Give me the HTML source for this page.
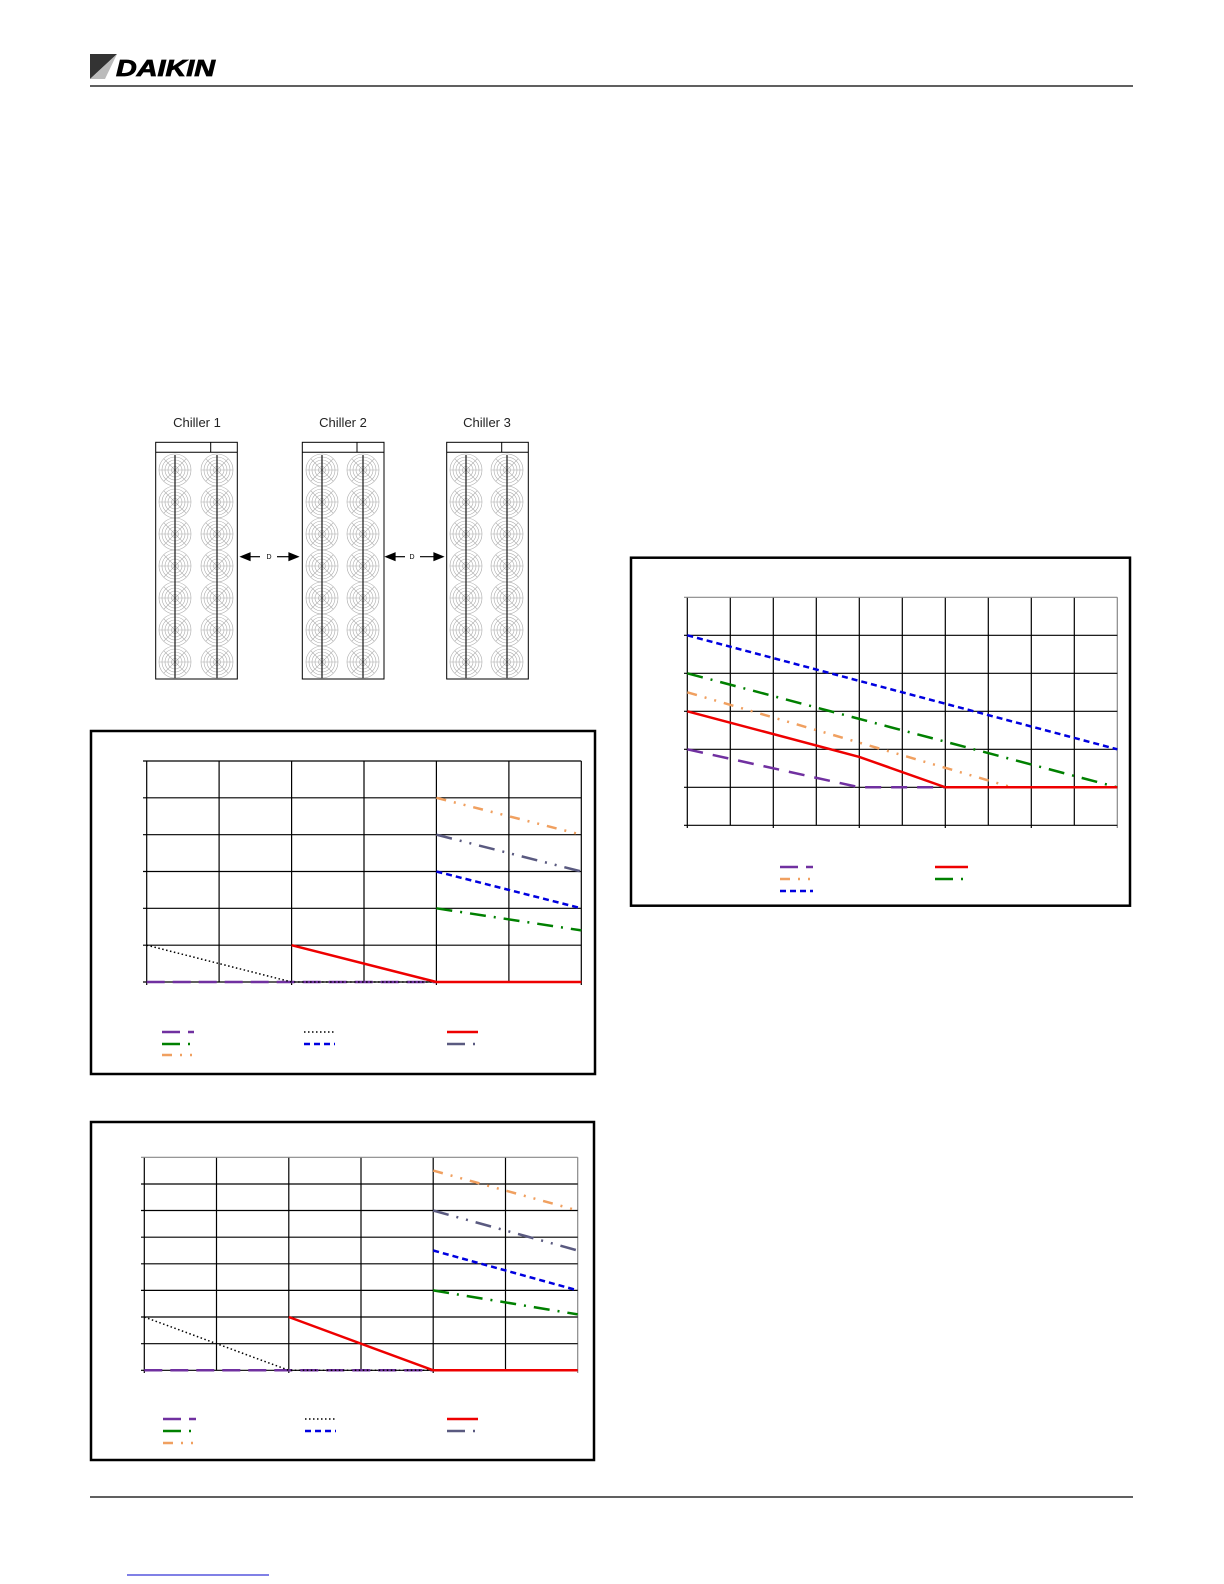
<!DOCTYPE html>
<html><head><meta charset="utf-8"><style>
html,body{margin:0;padding:0;background:#fff}
svg{display:block}
</style></head><body>
<svg width="1224" height="1584" viewBox="0 0 1224 1584" xmlns="http://www.w3.org/2000/svg" font-family="Liberation Sans, sans-serif">
<defs>
<g id="fan">
 <g fill="none" stroke="#aaa" stroke-width="0.6">
  <circle r="16"/><circle r="13"/><circle r="10"/><circle r="7"/><circle r="3.5"/>
  <line x1="-16" y1="0" x2="16" y2="0"/>
  <line x1="-11.3" y1="-11.3" x2="11.3" y2="11.3"/>
  <line x1="-11.3" y1="11.3" x2="11.3" y2="-11.3"/>
 </g>
</g>
</defs>
<!-- header -->
<polygon points="90,54 117,54 90,79" fill="#333"/>
<polygon points="90,79 117,54 105,79" fill="#bbb"/>
<text x="116" y="76" font-size="23" font-weight="bold" font-style="italic" textLength="99" lengthAdjust="spacingAndGlyphs" stroke="#000" stroke-width="0.8">DAIKIN</text>
<line x1="90" y1="86" x2="1133" y2="86" stroke="#000" stroke-width="1.2"/>

<!-- chillers -->
<g font-size="13" text-anchor="middle" fill="#222">
<text x="197" y="427">Chiller 1</text>
<text x="343" y="427">Chiller 2</text>
<text x="487" y="427">Chiller 3</text>
</g>
<g stroke="#000" stroke-width="1" fill="none">
<rect x="155.7" y="442.3" width="81.6" height="236.7"/><line x1="155.7" y1="452.3" x2="237.3" y2="452.3"/><line x1="210.7" y1="442.3" x2="210.7" y2="452.3"/>
<rect x="302.3" y="442.3" width="81.7" height="236.7"/><line x1="302.3" y1="452.3" x2="384" y2="452.3"/><line x1="357" y1="442.3" x2="357" y2="452.3"/>
<rect x="446.7" y="442.3" width="81.6" height="236.7"/><line x1="446.7" y1="452.3" x2="528.3" y2="452.3"/><line x1="501.7" y1="442.3" x2="501.7" y2="452.3"/>
</g>
<g>
<use href="#fan" x="175" y="470"/><use href="#fan" x="175" y="502"/><use href="#fan" x="175" y="534"/><use href="#fan" x="175" y="566"/><use href="#fan" x="175" y="598"/><use href="#fan" x="175" y="630"/><use href="#fan" x="175" y="662"/>
<use href="#fan" x="217" y="470"/><use href="#fan" x="217" y="502"/><use href="#fan" x="217" y="534"/><use href="#fan" x="217" y="566"/><use href="#fan" x="217" y="598"/><use href="#fan" x="217" y="630"/><use href="#fan" x="217" y="662"/>
<use href="#fan" x="322" y="470"/><use href="#fan" x="322" y="502"/><use href="#fan" x="322" y="534"/><use href="#fan" x="322" y="566"/><use href="#fan" x="322" y="598"/><use href="#fan" x="322" y="630"/><use href="#fan" x="322" y="662"/>
<use href="#fan" x="363" y="470"/><use href="#fan" x="363" y="502"/><use href="#fan" x="363" y="534"/><use href="#fan" x="363" y="566"/><use href="#fan" x="363" y="598"/><use href="#fan" x="363" y="630"/><use href="#fan" x="363" y="662"/>
<use href="#fan" x="466" y="470"/><use href="#fan" x="466" y="502"/><use href="#fan" x="466" y="534"/><use href="#fan" x="466" y="566"/><use href="#fan" x="466" y="598"/><use href="#fan" x="466" y="630"/><use href="#fan" x="466" y="662"/>
<use href="#fan" x="507" y="470"/><use href="#fan" x="507" y="502"/><use href="#fan" x="507" y="534"/><use href="#fan" x="507" y="566"/><use href="#fan" x="507" y="598"/><use href="#fan" x="507" y="630"/><use href="#fan" x="507" y="662"/>
</g>
<g stroke="#000" stroke-width="1.1">
<line x1="175" y1="455" x2="175" y2="678"/><line x1="217" y1="455" x2="217" y2="678"/>
<line x1="322" y1="455" x2="322" y2="678"/><line x1="363" y1="455" x2="363" y2="678"/>
<line x1="466" y1="455" x2="466" y2="678"/><line x1="507" y1="455" x2="507" y2="678"/>
</g>
<g stroke="#000" stroke-width="1.2" fill="#000">
<line x1="246" y1="556.7" x2="260" y2="556.7"/><polygon points="241,556.7 250,553 250,560.4"/>
<line x1="277" y1="556.7" x2="292" y2="556.7"/><polygon points="298,556.7 289,553 289,560.4"/>
<line x1="391" y1="556.7" x2="405" y2="556.7"/><polygon points="386,556.7 395,553 395,560.4"/>
<line x1="420" y1="556.7" x2="437" y2="556.7"/><polygon points="443,556.7 434,553 434,560.4"/>
</g>
<g font-size="7" text-anchor="middle"><text x="269" y="559">D</text><text x="412" y="559">D</text></g>

<!-- chart 1 -->
<rect x="91" y="731" width="504" height="343" fill="none" stroke="#000" stroke-width="2.5"/>
<g stroke="#000" stroke-width="1.2">
<line x1="146.7" y1="761" x2="146.7" y2="985"/><line x1="219.1" y1="761" x2="219.1" y2="982"/><line x1="291.6" y1="761" x2="291.6" y2="985"/><line x1="364" y1="761" x2="364" y2="982"/><line x1="436.4" y1="761" x2="436.4" y2="985"/><line x1="508.9" y1="761" x2="508.9" y2="982"/><line x1="581.3" y1="761" x2="581.3" y2="985"/>
<line x1="143" y1="761" x2="581.3" y2="761"/><line x1="143" y1="797.8" x2="581.3" y2="797.8"/><line x1="143" y1="834.7" x2="581.3" y2="834.7"/><line x1="143" y1="871.5" x2="581.3" y2="871.5"/><line x1="143" y1="908.3" x2="581.3" y2="908.3"/><line x1="143" y1="945.2" x2="581.3" y2="945.2"/><line x1="143" y1="982" x2="581.3" y2="982"/>
</g>
<g fill="none" stroke-width="2.5">
<line x1="146.7" y1="982" x2="436.4" y2="982" stroke="#7030a0" stroke-dasharray="18,8"/>
<polyline points="146.7,945.2 291.6,982 436.4,982" stroke="#000" stroke-width="1.5" stroke-dasharray="1.5,2.5"/>
<polyline points="291.6,945.2 436.4,982 581.3,982" stroke="#e00"/>
<line x1="436.4" y1="797.8" x2="581.3" y2="834.7" stroke="#f0a060" stroke-dasharray="10,8,2,8,2,8"/>
<line x1="436.4" y1="834.7" x2="581.3" y2="871.5" stroke="#5a5a80" stroke-dasharray="16,8,2,8,2,8"/>
<line x1="436.4" y1="871.5" x2="581.3" y2="908.3" stroke="#0000e0" stroke-dasharray="6,4"/>
<line x1="436.4" y1="908.3" x2="581.3" y2="930.4" stroke="#008000" stroke-dasharray="16,8,2,8"/>
</g>
<g fill="none" stroke-width="2.5">
<line x1="162" y1="1032" x2="194" y2="1032" stroke="#7030a0" stroke-dasharray="18,8"/>
<line x1="304" y1="1032" x2="335" y2="1032" stroke="#000" stroke-width="1.5" stroke-dasharray="1.5,2.5"/>
<line x1="447" y1="1032" x2="478" y2="1032" stroke="#e00"/>
<line x1="162" y1="1044" x2="194" y2="1044" stroke="#008000" stroke-dasharray="18,8,2,8"/>
<line x1="304" y1="1044" x2="335" y2="1044" stroke="#0000e0" stroke-dasharray="6,4"/>
<line x1="447" y1="1044" x2="478" y2="1044" stroke="#5a5a80" stroke-dasharray="18,8,2,8"/>
<line x1="162" y1="1055" x2="194" y2="1055" stroke="#f0a060" stroke-dasharray="10,8,2,8,2,8"/>
</g>

<!-- chart 2 -->
<rect x="91" y="1122" width="503" height="338" fill="none" stroke="#000" stroke-width="2.5"/>
<g stroke="#000" stroke-width="1.2">
<line x1="144.3" y1="1157.3" x2="144.3" y2="1373"/><line x1="216.5" y1="1157.3" x2="216.5" y2="1370.3"/><line x1="288.8" y1="1157.3" x2="288.8" y2="1373"/><line x1="361" y1="1157.3" x2="361" y2="1370.3"/><line x1="433.2" y1="1157.3" x2="433.2" y2="1373"/><line x1="505.5" y1="1157.3" x2="505.5" y2="1370.3"/><line x1="577.7" y1="1157.3" x2="577.7" y2="1373" stroke="#888"/>
<line x1="141" y1="1157.3" x2="577.7" y2="1157.3" stroke="#888"/><line x1="141" y1="1184" x2="577.7" y2="1184"/><line x1="141" y1="1210.5" x2="577.7" y2="1210.5"/><line x1="141" y1="1237.2" x2="577.7" y2="1237.2"/><line x1="141" y1="1263.8" x2="577.7" y2="1263.8"/><line x1="141" y1="1290.4" x2="577.7" y2="1290.4"/><line x1="141" y1="1317" x2="577.7" y2="1317"/><line x1="141" y1="1343.7" x2="577.7" y2="1343.7"/><line x1="141" y1="1370.3" x2="577.7" y2="1370.3"/>
</g>
<g fill="none" stroke-width="2.5">
<line x1="144.3" y1="1370.3" x2="433.2" y2="1370.3" stroke="#7030a0" stroke-dasharray="18,8"/>
<polyline points="144.3,1317 288.8,1370.3 433.2,1370.3" stroke="#000" stroke-width="1.5" stroke-dasharray="1.5,2.5"/>
<polyline points="288.8,1317 433.2,1370.3 577.7,1370.3" stroke="#e00"/>
<line x1="433.2" y1="1170.6" x2="577.7" y2="1210.5" stroke="#f0a060" stroke-dasharray="10,8,2,8,2,8"/>
<line x1="433.2" y1="1210.5" x2="577.7" y2="1250.5" stroke="#5a5a80" stroke-dasharray="16,8,2,8,2,8"/>
<line x1="433.2" y1="1250.5" x2="577.7" y2="1290.4" stroke="#0000e0" stroke-dasharray="6,4"/>
<line x1="433.2" y1="1290.4" x2="577.7" y2="1314.4" stroke="#008000" stroke-dasharray="16,8,2,8"/>
</g>
<g fill="none" stroke-width="2.5">
<line x1="163" y1="1419" x2="196" y2="1419" stroke="#7030a0" stroke-dasharray="18,8"/>
<line x1="305" y1="1419" x2="336" y2="1419" stroke="#000" stroke-width="1.5" stroke-dasharray="1.5,2.5"/>
<line x1="447" y1="1419" x2="478" y2="1419" stroke="#e00"/>
<line x1="163" y1="1431" x2="196" y2="1431" stroke="#008000" stroke-dasharray="18,8,2,8"/>
<line x1="305" y1="1431" x2="336" y2="1431" stroke="#0000e0" stroke-dasharray="6,4"/>
<line x1="447" y1="1431" x2="478" y2="1431" stroke="#5a5a80" stroke-dasharray="18,8,2,8"/>
<line x1="163" y1="1443" x2="196" y2="1443" stroke="#f0a060" stroke-dasharray="10,8,2,8,2,8"/>
</g>

<!-- chart 3 -->
<rect x="631" y="557.7" width="499" height="348" fill="none" stroke="#000" stroke-width="2.5"/>
<g stroke="#000" stroke-width="1.2">
<line x1="687.3" y1="597.3" x2="687.3" y2="828"/><line x1="730.3" y1="597.3" x2="730.3" y2="825.3"/><line x1="773.3" y1="597.3" x2="773.3" y2="828"/><line x1="816.3" y1="597.3" x2="816.3" y2="825.3"/><line x1="859.3" y1="597.3" x2="859.3" y2="828"/><line x1="902.3" y1="597.3" x2="902.3" y2="825.3"/><line x1="945.3" y1="597.3" x2="945.3" y2="828"/><line x1="988.3" y1="597.3" x2="988.3" y2="825.3"/><line x1="1031.3" y1="597.3" x2="1031.3" y2="828"/><line x1="1074.3" y1="597.3" x2="1074.3" y2="825.3"/><line x1="1117.3" y1="597.3" x2="1117.3" y2="828" stroke="#888"/>
<line x1="684" y1="597.3" x2="1117.3" y2="597.3" stroke="#888"/><line x1="684" y1="635.3" x2="1117.3" y2="635.3"/><line x1="684" y1="673.3" x2="1117.3" y2="673.3"/><line x1="684" y1="711.3" x2="1117.3" y2="711.3"/><line x1="684" y1="749.3" x2="1117.3" y2="749.3"/><line x1="684" y1="787.3" x2="1117.3" y2="787.3"/><line x1="684" y1="825.3" x2="1117.3" y2="825.3"/>
</g>
<g fill="none" stroke-width="2.5">
<line x1="687.3" y1="635.3" x2="1117.3" y2="749.3" stroke="#0000e0" stroke-dasharray="6,4"/>
<line x1="687.3" y1="673.3" x2="1117.3" y2="787.3" stroke="#008000" stroke-dasharray="16,8,2,8"/>
<polyline points="687.3,692.3 1011.8,787.3 1117.3,787.3" stroke="#f0a060" stroke-dasharray="10,8,2,8,2,8"/>
<polyline points="687.3,749.3 859.3,787.3 945.3,787.3" stroke="#7030a0" stroke-dasharray="16,10"/>
<polyline points="687.3,711.3 859.3,756.9 945.3,787.3 1117.3,787.3" stroke="#e00"/>
</g>
<g fill="none" stroke-width="2.5">
<line x1="780" y1="867" x2="813" y2="867" stroke="#7030a0" stroke-dasharray="18,8"/>
<line x1="935" y1="867" x2="968" y2="867" stroke="#e00"/>
<line x1="780" y1="879" x2="813" y2="879" stroke="#f0a060" stroke-dasharray="10,8,2,8,2,8"/>
<line x1="935" y1="879" x2="968" y2="879" stroke="#008000" stroke-dasharray="18,8,2,8"/>
<line x1="780" y1="891" x2="813" y2="891" stroke="#0000e0" stroke-dasharray="6,4"/>
</g>

<!-- footer -->
<line x1="90" y1="1497" x2="1133" y2="1497" stroke="#000" stroke-width="1.2"/>
<line x1="127" y1="1575" x2="269" y2="1575" stroke="#00c" stroke-width="1"/>
</svg>
</body></html>
